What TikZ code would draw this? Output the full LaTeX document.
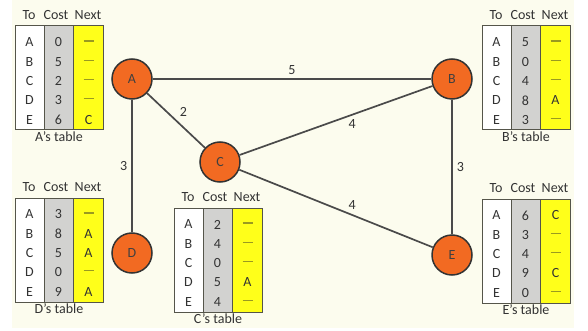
\documentclass[tikz,border=0pt]{standalone}
\usepackage{fontspec}
\setmainfont{Carlito}
\definecolor{bgcol}{HTML}{FCFCEE}
\definecolor{greycol}{HTML}{D2D2D0}
\definecolor{yelcol}{HTML}{FFFF1A}
\definecolor{orng}{HTML}{F26A22}
\definecolor{txt}{HTML}{333333}
\definecolor{tabln}{HTML}{55554A}
\definecolor{dshcol}{HTML}{9A9A20}
\definecolor{edgecol}{HTML}{4A4A4A}
\newcommand\nd{\textcolor{dshcol}{\rule[3pt]{10pt}{1.1pt}}}
\tikzset{
  router/.style={circle,draw=black!80,line width=1.5pt,fill=orng,minimum size=40pt,inner sep=0pt,text=black!75,font=\fontsize{14}{16}\selectfont},
  edge/.style={draw=edgecol,line width=1.7pt},
  elabel/.style={text=txt,font=\fontsize{14}{16}\selectfont,inner sep=2pt},
  cell/.style={text=txt,font=\fontsize{14}{16}\selectfont,inner sep=0pt},
  hdr/.style={text=txt,font=\fontsize{14}{16}\selectfont,inner sep=0pt},
  tabline/.style={draw=tabln,line width=1pt}
}
\newcommand\rtable[5]{%
  \fill[white] (#1,#2) rectangle ++(29,104);
  \fill[greycol] (#1+29,#2) rectangle ++(29.5,104);
  \fill[yelcol] (#1+58.5,#2) rectangle ++(29.5,104);
  \draw[tabline] (#1,#2) rectangle ++(88,104);
  \draw[tabline] (#1+29,#2) -- ++(0,104);
  \draw[tabline] (#1+58.5,#2) -- ++(0,104);
  \node[hdr] (#3-h1) at (#1+14,#2-11) {To};
  \node[hdr] (#3-h2) at (#1+41,#2-11) {Cost};
  \node[hdr] (#3-h3) at (#1+73,#2-11) {Next};
  \foreach \t [count=\i] in {A,B,C,D,E}
    \node[cell] (#3-t\i) at (#1+14.5,#2+16.5+19.3*\i-19.3) {\t};
  \foreach \t [count=\i] in {#4}
    \node[cell] (#3-c\i) at (#1+43.5,#2+16.5+19.3*\i-19.3) {\t};
  \foreach \t [count=\i] in {#5}
    \node[cell] (#3-n\i) at (#1+73.5,#2+16.5+19.3*\i-19.3) {\t};
  \node[hdr] (#3-cap) at (#1+44,#2+111) {#3's table};
}
\begin{document}
\begin{tikzpicture}[x=1pt,y=-1pt]
\useasboundingbox (0,0) rectangle (588,331);
\fill[bgcol] (12,0) rectangle (574,328);

\rtable{15}{26}{A}{0,5,2,3,6}{\nd,\nd,\nd,\nd,C}
\rtable{482}{26}{B}{5,0,4,8,3}{\nd,\nd,\nd,A,\nd}
\rtable{15}{198}{D}{3,8,5,0,9}{\nd,A,A,\nd,A}
\rtable{174}{208}{C}{2,4,0,5,4}{\nd,\nd,\nd,A,\nd}
\rtable{482}{199}{E}{6,3,4,9,0}{C,\nd,\nd,C,\nd}

\node[router] (rA) at (132,79) {A};
\node[router] (rB) at (452,79) {B};
\node[router] (rC) at (220,162) {C};
\node[router] (rD) at (132,253) {D};
\node[router] (rE) at (452,255) {E};

\draw[edge] (rA) -- (rB) node[elabel,midway,above=2pt] {5};
\draw[edge] (rA) -- (rC) node[elabel,pos=0.5,above right=1pt] {2};
\draw[edge] (rA) -- (rD) node[elabel,midway,left=2pt] {3};
\draw[edge] (rB) -- (rE) node[elabel,midway,right=2pt] {3};
\draw[edge] (rC) -- (rB) node[elabel,pos=0.55,below right=0pt] {4};
\draw[edge] (rC) -- (rE) node[elabel,pos=0.55,above right=0pt] {4};
\end{tikzpicture}
\end{document}
